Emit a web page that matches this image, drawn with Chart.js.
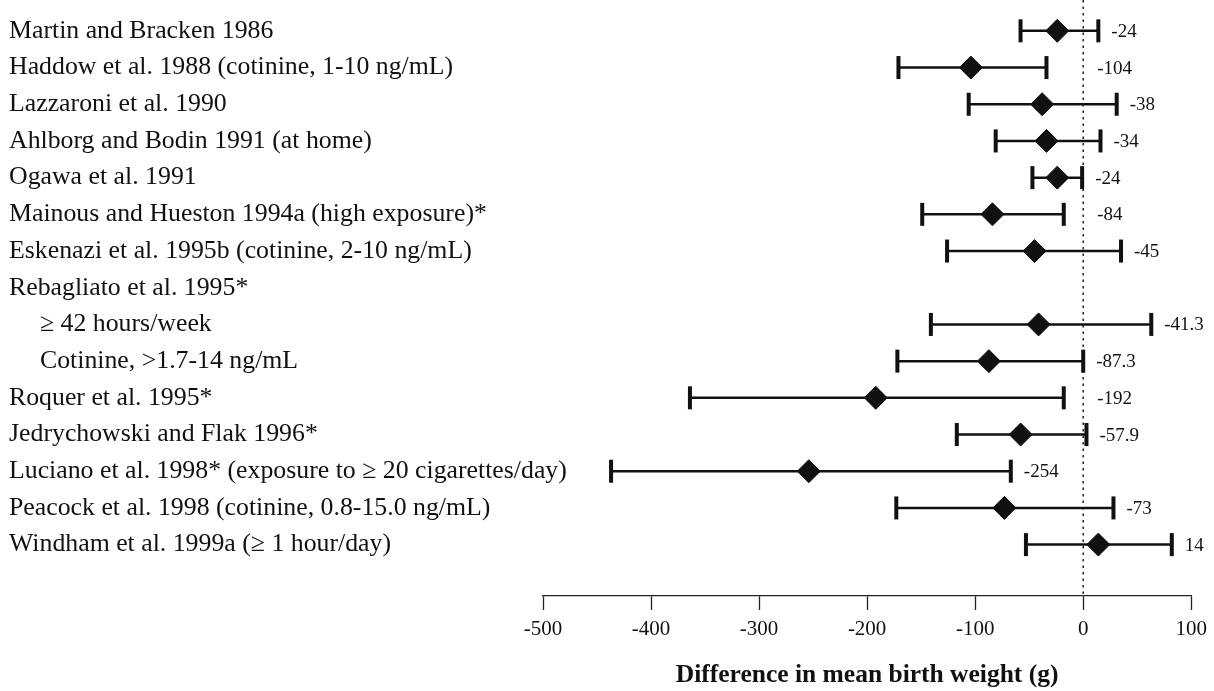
<!DOCTYPE html>
<html>
<head>
<meta charset="utf-8">
<title>Difference in mean birth weight</title>
<script src="https://cdn.jsdelivr.net/npm/chart.js@4"></script>
<style>
    html, body { margin: 0; padding: 0; background: #fff; }
    canvas { display: block; }
</style>
</head>
<body>
<canvas id="forestChart" width="1214" height="691"></canvas>
<script>
// ======================
// DATA
// ======================
const studies = [
    "Martin and Bracken 1986",
    "Haddow et al. 1988 (cotinine, 1-10 ng/mL)",
    "Lazzaroni et al. 1990",
    "Ahlborg and Bodin 1991 (at home)",
    "Ogawa et al. 1991",
    "Mainous and Hueston 1994a (high exposure)*",
    "Eskenazi et al. 1995b (cotinine, 2-10 ng/mL)",
    "Rebagliato et al. 1995*",
    "\u2003\u2009≥ 42 hours/week",
    "\u2003\u2009Cotinine, >1.7-14 ng/mL",
    "Roquer et al. 1995*",
    "Jedrychowski and Flak 1996*",
    "Luciano et al. 1998* (exposure to ≥ 20 cigarettes/day)",
    "Peacock et al. 1998 (cotinine, 0.8-15.0 ng/mL)",
    "Windham et al. 1999a (≥ 1 hour/day)"
];

const estimates = [-24, -104, -38, -34, -24, -84, -45, null, -41.3, -87.3, -192, -57.9, -254, -73, 14];
const lowerCI = [-58, -171, -106, -81, -47, -149, -126, null, -141, -172, -364, -117, -437, -173, -53];
const upperCI = [14, -34, 31, 16, -1, -18, 35, null, 63, 0, -18, 3, -67, 28, 82];

const xTicks = [-500, -400, -300, -200, -100, 0, 100];
const axisTitle = "Difference in mean birth weight (g)";

const SERIF = '"Liberation Serif", "Times New Roman", serif';
const INK = "#111";

// ======================
// ERROR BARS + LABELS
// ======================
const forestPlugin = {
    id: "forest",

    beforeDatasetsDraw(chart) {
        const { ctx, chartArea, scales: { x, y } } = chart;
        const x0 = x.getPixelForValue(0);

        ctx.save();

        // study names, left aligned
        ctx.fillStyle = INK;
        ctx.font = "25.8px " + SERIF;
        ctx.textAlign = "left";
        ctx.textBaseline = "middle";
        studies.forEach((s, i) => {
            ctx.fillText(s, 9, y.getPixelForValue(i));
        });

        // dotted line at zero
        ctx.strokeStyle = "#222";
        ctx.lineWidth = 1.5;
        ctx.setLineDash([2.5, 4]);
        ctx.beginPath();
        ctx.moveTo(x0, 0);
        ctx.lineTo(x0, chartArea.bottom);
        ctx.stroke();
        ctx.setLineDash([]);

        ctx.strokeStyle = INK;

        studies.forEach((s, i) => {
            if (lowerCI[i] === null) return;

            const yp = y.getPixelForValue(i);
            const xl = x.getPixelForValue(lowerCI[i]);
            const xu = x.getPixelForValue(upperCI[i]);

            ctx.lineWidth = 2.5;
            ctx.beginPath();
            ctx.moveTo(xl, yp);
            ctx.lineTo(xu, yp);
            ctx.stroke();

            [xl, xu].forEach(xc => {
                ctx.fillRect(xc - 2, yp - 11.5, 4, 23);
            });
        });

        ctx.restore();
    },

    afterDatasetsDraw(chart) {
        const { ctx, scales: { x, y } } = chart;
        const x0 = x.getPixelForValue(0);

        ctx.save();
        ctx.fillStyle = INK;
        ctx.font = "19px " + SERIF;
        ctx.textAlign = "left";
        ctx.textBaseline = "middle";

        estimates.forEach((v, i) => {
            if (v === null) return;

            const text = String(v);
            const w = ctx.measureText(text).width;
            let xp = x.getPixelForValue(upperCI[i]) + 13;

            // keep the number off the dotted line
            if (xp < x0 + 4 && xp + w > x0 - 4) {
                xp = x0 + 14;
            }

            ctx.fillText(text, xp, y.getPixelForValue(i) + 1);
        });

        ctx.restore();
    }
};

// ======================
// CHART
// ======================
new Chart(
    document.getElementById("forestChart"),
    {
        type: "scatter",

        data: {
            datasets: [{
                data: estimates
                    .map((v, i) => ({ x: v, y: i }))
                    .filter(p => p.x !== null),
                pointStyle: "rectRot",
                pointRadius: 11.5,
                pointHoverRadius: 11.5,
                backgroundColor: INK,
                borderColor: INK,
                borderWidth: 1
            }]
        },

        options: {
            responsive: false,
            animation: false,
            devicePixelRatio: 1,
            events: [],

            layout: {
                padding: { top: 7.5, left: 9, right: 18, bottom: 0 }
            },

            plugins: {
                legend: { display: false },
                tooltip: { enabled: false }
            },

            scales: {
                x: {
                    type: "linear",
                    min: -500,
                    max: 100,
                    afterBuildTicks: scale => {
                        scale.ticks = xTicks.map(v => ({ value: v }));
                    },
                    afterFit: scale => {
                        scale.height = 95;
                    },
                    grid: {
                        drawOnChartArea: false,
                        drawTicks: true,
                        tickLength: 14,
                        tickColor: "#222",
                        tickWidth: 1.3
                    },
                    border: {
                        display: true,
                        color: "#222",
                        width: 1.3
                    },
                    ticks: {
                        color: INK,
                        padding: 7,
                        maxRotation: 0,
                        font: { family: SERIF, size: 21 },
                        callback: v => String(v)
                    },
                    title: {
                        display: true,
                        text: axisTitle,
                        color: INK,
                        padding: { top: 0, bottom: 0 },
                        font: { family: SERIF, size: 25.5, weight: "bold" }
                    }
                },

                y: {
                    type: "linear",
                    reverse: true,
                    min: -0.5,
                    max: 15.4,
                    afterBuildTicks: scale => {
                        scale.ticks = studies.map((s, i) => ({ value: i }));
                    },
                    afterFit: scale => {
                        scale.width = 534;
                    },
                    grid: { display: false },
                    border: { display: false },
                    ticks: { display: false }
                }
            }
        },

        plugins: [forestPlugin]
    }
);
</script>
</body>
</html>
